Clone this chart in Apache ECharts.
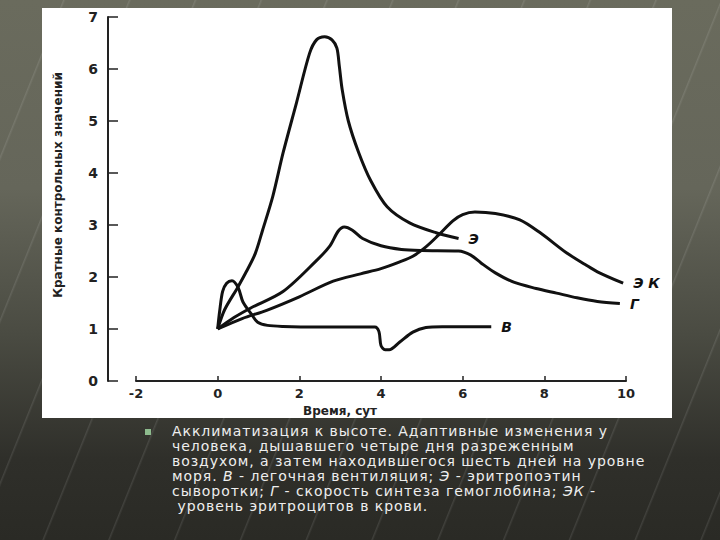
<!DOCTYPE html>
<html>
<head>
<meta charset="utf-8">
<script src="https://cdn.jsdelivr.net/npm/echarts@6/dist/echarts.min.js"></script>
<style>
  html, body { margin: 0; padding: 0; }
  body {
    width: 720px; height: 540px; position: relative; overflow: hidden;
    background:
      repeating-linear-gradient(112deg, rgba(255,255,255,0) 0px, rgba(255,255,255,0) 58px, rgba(255,255,255,0.10) 59px, rgba(255,255,255,0) 61px),
      linear-gradient(to bottom, #6a6b5d 0%, #65665a 35%, #4a4b42 62%, #2f2f2a 85%, #2a2a25 100%);
  }
  #panel { position: absolute; left: 42px; top: 8px; width: 630px; height: 410px; background: #ffffff; }
  #chart { position: absolute; left: 0; top: 0; width: 720px; height: 540px; }
  #caption {
    position: absolute; left: 172px; top: 424px;
    font-family: "DejaVu Sans", sans-serif; font-size: 14px; line-height: 15px; letter-spacing: 0.95px;
    color: #eeeeee; white-space: pre;
  }
  #caption div { height: 15px; line-height: 15px; }
  #caption i { display: inline-block; height: 15px; line-height: 15px; vertical-align: top; }
  #bullet { position: absolute; left: 145px; top: 429px; width: 6px; height: 6px; background: #8dbb8d; }
</style>
</head>
<body>
<div id="panel"></div>
<div id="chart"></div>
<div id="bullet"></div>
<div id="caption"><div>Акклиматизация к высоте. Адаптивные изменения у</div><div>человека, дышавшего четыре дня разреженным</div><div>воздухом, а затем находившегося шесть дней на уровне</div><div>моря. <i>В</i> - легочная вентиляция; <i>Э</i> - эритропоэтин</div><div>сыворотки; <i>Г</i> - скорость синтеза гемоглобина; <i>ЭК</i> -</div><div> уровень эритроцитов в крови.</div></div>
<script>
// ---- data (days, multiples of control values) ----
const xTicks = [-2, 0, 2, 4, 6, 8, 10];
const yTicks = [0, 1, 2, 3, 4, 5, 6, 7];

const ventDays = [0, 0.05, 0.12, 0.22, 0.35, 0.5, 0.62, 0.84, 0.98, 1.22, 1.6, 2.5, 3.85, 3.95, 4.0, 4.1, 4.2, 4.46, 4.78, 5.1, 5.5, 6.7];
const ventVals = [1, 1.35, 1.72, 1.88, 1.93, 1.8, 1.52, 1.27, 1.13, 1.07, 1.05, 1.04, 1.04, 0.95, 0.68, 0.6, 0.6, 0.75, 0.94, 1.03, 1.045, 1.045];

const epoDays = [0, 0.17, 0.49, 0.7, 0.92, 1.1, 1.35, 1.6, 1.93, 2.25, 2.42, 2.62, 2.8, 2.92, 2.98, 3.05, 3.2, 3.45, 3.75, 4.15, 4.7, 5.35, 5.9];
const epoVals = [1, 1.37, 1.8, 2.1, 2.45, 2.9, 3.55, 4.38, 5.35, 6.3, 6.56, 6.62, 6.56, 6.4, 6.05, 5.6, 5.0, 4.4, 3.85, 3.35, 3.04, 2.85, 2.74];

const hbDays = [0, 0.4, 0.8, 1.6, 2.4, 2.75, 2.95, 3.1, 3.3, 3.55, 4.0, 4.5, 5.0, 5.9, 6.2, 6.45, 6.8, 7.25, 7.8, 8.3, 8.8, 9.3, 9.85];
const hbVals = [1, 1.22, 1.4, 1.72, 2.3, 2.6, 2.88, 2.96, 2.9, 2.74, 2.6, 2.53, 2.51, 2.5, 2.42, 2.27, 2.08, 1.9, 1.78, 1.69, 1.6, 1.53, 1.49];

const rbcDays = [0, 0.6, 1.2, 2.0, 2.83, 3.5, 4.0, 4.46, 4.78, 5.1, 5.4, 5.76, 6.0, 6.3, 6.8, 7.4, 7.9, 8.55, 9.0, 9.3, 9.93];
const rbcVals = [1, 1.2, 1.36, 1.62, 1.92, 2.06, 2.16, 2.29, 2.4, 2.58, 2.8, 3.08, 3.2, 3.25, 3.22, 3.1, 2.85, 2.46, 2.24, 2.1, 1.88];

const seriesNames = ['В', 'Э', 'Г', 'Э К'];

function pairs(xs, ys) { return xs.map((x, i) => [x, ys[i]]); }

const chart = echarts.init(document.getElementById('chart'), null, { renderer: 'svg' });
const lineStyle = { color: '#111111', width: 3 };
function mkSeries(name, xs, ys) {
  return {
    type: 'line', name: name, data: pairs(xs, ys), smooth: 0.3,
    showSymbol: false, symbol: 'none', lineStyle: lineStyle, clip: false,
    endLabel: {
      show: true, formatter: name, distance: 10, color: '#111',
      fontFamily: 'DejaVu Sans', fontSize: 14, fontWeight: 'bold', fontStyle: 'italic'
    },
    silent: true
  };
}

chart.setOption({
  animation: false,
  backgroundColor: 'transparent',
  grid: { left: 136, right: 94, top: 17, bottom: 159 },
  xAxis: {
    type: 'value', min: -2, max: 10, interval: 2,
    axisLine: { show: true, onZero: false, lineStyle: { color: '#222', width: 2 } },
    axisTick: { show: true, inside: true, length: 5, lineStyle: { color: '#222', width: 1.5 } },
    axisLabel: { margin: 6, color: '#222', fontFamily: 'DejaVu Sans', fontWeight: 'bold', fontSize: 13,
      formatter: v => xTicks.includes(v) ? String(v) : '' },
    splitLine: { show: false },
    name: 'Время, сут', nameLocation: 'middle', nameGap: 22,
    nameTextStyle: { color: '#222', fontFamily: 'DejaVu Sans', fontWeight: 'bold', fontSize: 12, padding: [0, 82, 0, 0] }
  },
  yAxis: {
    type: 'value', min: 0, max: 7, interval: 1, offset: 28,
    axisLine: { show: true, onZero: false, lineStyle: { color: '#222', width: 2 } },
    axisTick: { show: true, inside: true, length: 10, lineStyle: { color: '#222', width: 1.5 } },
    axisLabel: { margin: 10, color: '#222', fontFamily: 'DejaVu Sans', fontWeight: 'bold', fontSize: 14,
      formatter: v => yTicks.includes(v) ? String(v) : '' },
    splitLine: { show: false },
    name: 'Кратные контрольных значений', nameLocation: 'middle', nameGap: 44, nameRotate: 90,
    nameTextStyle: { color: '#222', fontFamily: 'DejaVu Sans', fontWeight: 'bold', fontSize: 12, padding: [0, 0, 0, 28] }
  },
  series: [
    mkSeries(seriesNames[0], ventDays, ventVals),
    mkSeries(seriesNames[1], epoDays, epoVals),
    mkSeries(seriesNames[2], hbDays, hbVals),
    mkSeries(seriesNames[3], rbcDays, rbcVals)
  ]
});
</script>
</body>
</html>
